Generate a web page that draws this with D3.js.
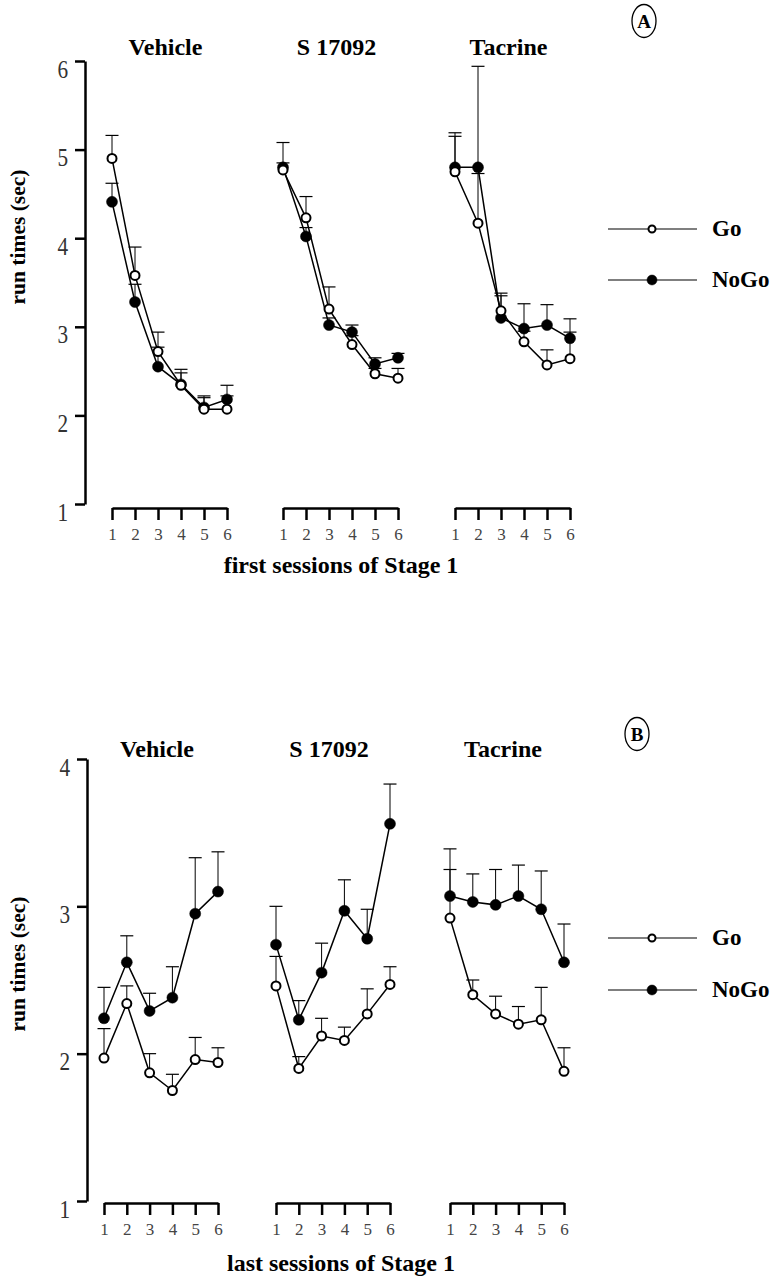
<!DOCTYPE html>
<html>
<head>
<meta charset="utf-8">
<script src="https://cdn.jsdelivr.net/npm/d3@7"></script>
<style>
body { margin: 0; background: #fff; }
svg { display: block; }
</style>
</head>
<body>
<svg id="chart" width="774" height="1280"></svg>
<script>
// data
var sessions = [1, 2, 3, 4, 5, 6];
var groups = ["Vehicle", "S 17092", "Tacrine"];
var yTicksA = [1, 2, 3, 4, 5, 6];
var yTicksB = [1, 2, 3, 4];

// panel A : first sessions
var goA = [
	[4.90, 3.58, 2.72, 2.34, 2.07, 2.07],
	[4.77, 4.23, 3.20, 2.80, 2.47, 2.42],
	[4.75, 4.17, 3.18, 2.83, 2.57, 2.64]
];
var goSemA = [
	[0.26, 0.32, 0.22, 0.18, 0.15, 0.15],
	[0.31, 0.24, 0.25, 0.10, 0.06, 0.11],
	[0.40, 0.56, 0.20, 0.12, 0.17, 0.30]
];
var nogoA = [
	[4.41, 3.28, 2.55, 2.35, 2.09, 2.18],
	[4.80, 4.02, 3.02, 2.94, 2.58, 2.65],
	[4.80, 4.80, 3.10, 2.98, 3.02, 2.87]
];
var nogoSemA = [
	[0.21, 0.20, 0.22, 0.13, 0.11, 0.16],
	[0.05, 0.10, 0.08, 0.08, 0.07, 0.05],
	[0.39, 1.14, 0.25, 0.28, 0.23, 0.22]
];

// panel B : last sessions
var goB = [
	[1.97, 2.34, 1.87, 1.75, 1.96, 1.94],
	[2.46, 1.90, 2.12, 2.09, 2.27, 2.47],
	[2.92, 2.40, 2.27, 2.20, 2.23, 1.88]
];
var goSemB = [
	[0.20, 0.12, 0.13, 0.11, 0.15, 0.10],
	[0.20, 0.08, 0.12, 0.09, 0.17, 0.12],
	[0.33, 0.10, 0.12, 0.12, 0.22, 0.16]
];
var nogoB = [
	[2.24, 2.62, 2.29, 2.38, 2.95, 3.10],
	[2.74, 2.23, 2.55, 2.97, 2.78, 3.56],
	[3.07, 3.03, 3.01, 3.07, 2.98, 2.62]
];
var nogoSemB = [
	[0.21, 0.18, 0.12, 0.21, 0.38, 0.27],
	[0.26, 0.13, 0.20, 0.21, 0.20, 0.27],
	[0.32, 0.19, 0.24, 0.21, 0.26, 0.26]
];

var serif = '"Liberation Serif", "Times New Roman", serif';
var svg = d3.select('#chart');

function drawPanel(p){
	var g = svg.append('g');

	var y = d3.scaleLinear().domain([1, p.yTicks[p.yTicks.length - 1]]).range([p.yBottom, p.yTop]);

	// y axis
	var yAxis = g.append('g')
	  .attr('transform', 'translate(' + p.yAxisX + ',0)')
	  .call(d3.axisLeft(y).tickValues(p.yTicks).tickSize(10).tickSizeOuter(0).tickFormat(d3.format('d')));
	yAxis.select('.domain').style('stroke-width', 2.5);
	yAxis.selectAll('.tick line').style('stroke-width', 2.5);
	// tick digits sit a little below their tick in the original
	yAxis.selectAll('.tick text')
	  .attr('dy', '0.64em')
	  .style('font-family', serif)
	  .style('font-size', '25px')
	  .style('fill', '#333')
	  .attr('transform', 'scale(0.85,1)')
	  .attr('x', -17 / 0.85);

	g.append('text')
	  .attr('transform', 'translate(25,' + p.yLabelY + ') rotate(-90)')
	  .attr('text-anchor', 'middle')
	  .style('font-family', serif)
	  .style('font-weight', 'bold')
	  .style('font-size', '21.5px')
	  .text('run times (sec)');

	groups.forEach(function(name, gi){
		var x0 = p.xStarts[gi];
		var x = d3.scaleLinear().domain([1, 6]).range([x0, x0 + p.xWidth]);

		var xAxis = g.append('g')
		  .attr('transform', 'translate(0,' + p.xAxisY + ')')
		  .call(d3.axisBottom(x).tickValues(sessions).tickSize(12).tickSizeOuter(0).tickFormat(d3.format('d')));
		xAxis.select('.domain').style('stroke-width', 2.5);
		xAxis.selectAll('.tick line').style('stroke-width', 2.5);
		xAxis.selectAll('.tick text')
		  .attr('y', 20)
		  .style('font-family', serif)
		  .style('font-size', '17px')
		  .style('fill', '#444');

		g.append('text')
		  .attr('x', x0 + p.xWidth / 2 - 4)
		  .attr('y', p.titleY)
		  .attr('text-anchor', 'middle')
		  .style('font-family', serif)
		  .style('font-weight', 'bold')
		  .style('font-size', '24px')
		  .text(name);

		var series = [
			{ vals: p.nogo[gi], sem: p.nogoSem[gi], fill: 'black' },
			{ vals: p.go[gi], sem: p.goSem[gi], fill: 'white' }
		];

		var line = d3.line()
		  .x(function(d, i){ return x(sessions[i]) })
		  .y(function(d){ return y(d) });

		series.forEach(function(s){
			g.append('path')
			  .attr('d', line(s.vals))
			  .style('fill', 'none')
			  .style('stroke', 'black')
			  .style('stroke-width', 1.5);
		});

		// error bars (upper only)
		series.forEach(function(s){
			var eb = g.selectAll(null)
			  .data(s.vals)
			  .enter()
			  .append('g');
			eb.append('line')
			  .attr('x1', function(d, i){ return x(sessions[i]) })
			  .attr('x2', function(d, i){ return x(sessions[i]) })
			  .attr('y1', function(d){ return y(d) })
			  .attr('y2', function(d, i){ return y(d + s.sem[i]) })
			  .style('stroke', 'black')
			  .style('stroke-width', 1);
			eb.append('line')
			  .attr('x1', function(d, i){ return x(sessions[i]) - 6.5 })
			  .attr('x2', function(d, i){ return x(sessions[i]) + 6.5 })
			  .attr('y1', function(d, i){ return y(d + s.sem[i]) })
			  .attr('y2', function(d, i){ return y(d + s.sem[i]) })
			  .style('stroke', 'black')
			  .style('stroke-width', 1.2);
		});

		series.forEach(function(s){
			g.selectAll(null)
			  .data(s.vals)
			  .enter()
			  .append('circle')
			  .attr('cx', function(d, i){ return x(sessions[i]) })
			  .attr('cy', function(d){ return y(d) })
			  .attr('r', s.fill == 'white' ? 4.5 : 5.5)
			  .style('fill', s.fill)
			  .style('stroke', 'black')
			  .style('stroke-width', s.fill == 'white' ? 2 : 0.5);
		});
	});

	// legend
	var leg = [
		{ label: 'Go', fill: 'white', y: p.legendY[0] },
		{ label: 'NoGo', fill: 'black', y: p.legendY[1] }
	];
	leg.forEach(function(l){
		g.append('line')
		  .attr('x1', 608).attr('x2', 697)
		  .attr('y1', l.y).attr('y2', l.y)
		  .style('stroke', 'black')
		  .style('stroke-width', 1.2);
		g.append('circle')
		  .attr('cx', 652).attr('cy', l.y)
		  .attr('r', l.fill == 'white' ? 3.5 : 5)
		  .style('fill', l.fill)
		  .style('stroke', 'black')
		  .style('stroke-width', l.fill == 'white' ? 2 : 0.5);
		g.append('text')
		  .attr('x', 712).attr('y', l.y + 7)
		  .style('font-family', serif)
		  .style('font-weight', 'bold')
		  .style('font-size', '23px')
		  .text(l.label);
	});

	// circled panel letter
	g.append('ellipse')
	  .attr('cx', p.letter[1]).attr('cy', p.letter[2])
	  .attr('rx', 12).attr('ry', 16.5)
	  .style('fill', 'none')
	  .style('stroke', 'black')
	  .style('stroke-width', 1.3);
	g.append('text')
	  .attr('x', p.letter[1]).attr('y', p.letter[2] + 7)
	  .attr('text-anchor', 'middle')
	  .style('font-family', serif)
	  .style('font-weight', 'bold')
	  .style('font-size', '19px')
	  .text(p.letter[0]);

	g.append('text')
	  .attr('x', 341).attr('y', p.xLabelY)
	  .attr('text-anchor', 'middle')
	  .style('font-family', serif)
	  .style('font-weight', 'bold')
	  .style('font-size', '24px')
	  .text(p.xLabel);
}

drawPanel({
	yTicks: yTicksA, yTop: 61, yBottom: 504, yAxisX: 85, yLabelY: 237,
	xStarts: [112, 283, 455], xWidth: 115, xAxisY: 508,
	titleY: 55, go: goA, goSem: goSemA, nogo: nogoA, nogoSem: nogoSemA,
	legendY: [229, 280], letter: ['A', 644, 21],
	xLabel: 'first sessions of Stage 1', xLabelY: 573
});

drawPanel({
	yTicks: yTicksB, yTop: 759, yBottom: 1201, yAxisX: 87, yLabelY: 964,
	xStarts: [104, 276, 450], xWidth: 114, xAxisY: 1203,
	titleY: 757, go: goB, goSem: goSemB, nogo: nogoB, nogoSem: nogoSemB,
	legendY: [938, 990], letter: ['B', 637, 734],
	xLabel: 'last sessions of Stage 1', xLabelY: 1271
});
</script>
</body>
</html>
